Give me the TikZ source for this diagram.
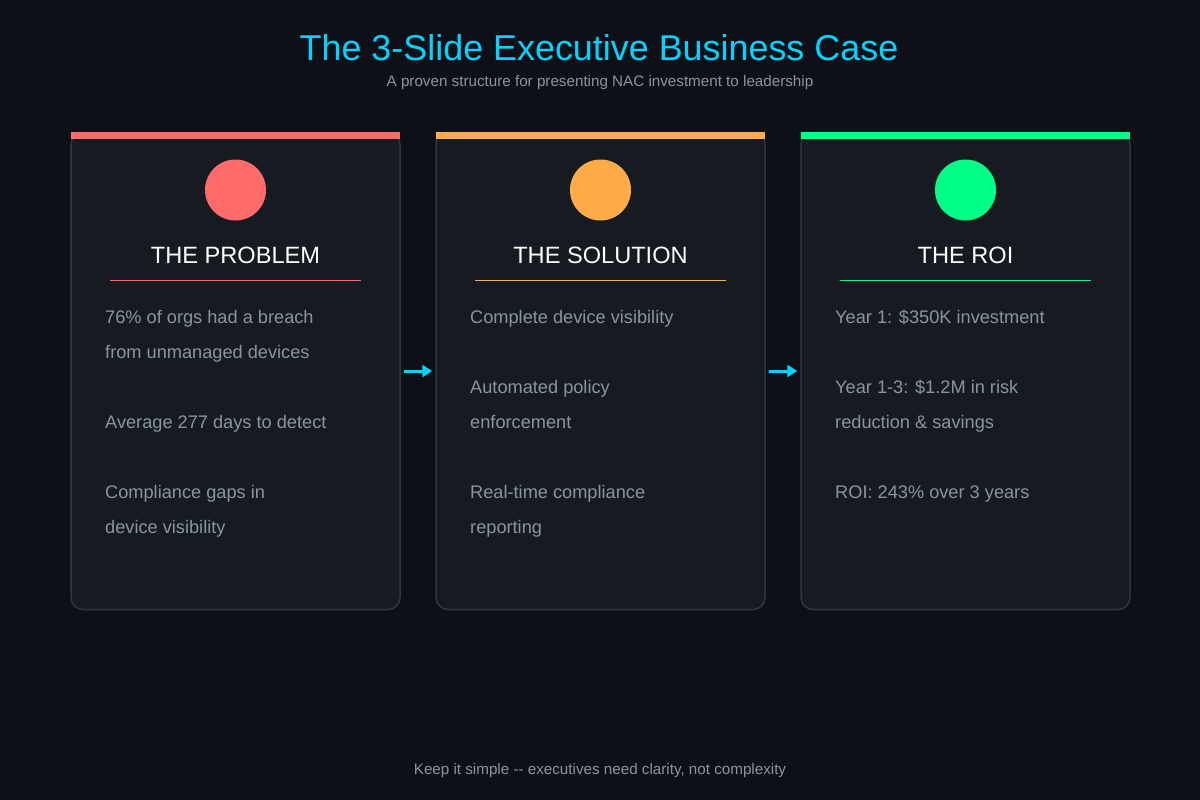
\documentclass[tikz,border=0pt]{standalone}
\usepackage{fontspec}
\setmainfont{Liberation Sans}
\usepackage{xcolor}
\usetikzlibrary{positioning,arrows.meta}
\definecolor{bgdark}{HTML}{0D1117}
\definecolor{cardbg}{HTML}{161B22}
\definecolor{cardline}{HTML}{30363D}
\definecolor{mutedgray}{HTML}{8B949E}
\definecolor{accentcyan}{HTML}{00D4FF}
\definecolor{probred}{HTML}{FF6B6B}
\definecolor{solorange}{HTML}{FFAB4A}
\definecolor{roigreen}{HTML}{00FF88}
\tikzset{
  card/.style={rectangle, rounded corners=12pt, fill=cardbg, draw=cardline, line width=1.5pt, minimum width=329pt, minimum height=477pt, inner sep=0pt},
  dot/.style={circle, minimum size=61pt, inner sep=0pt},
  head/.style={font=\fontsize{23.6}{28}\selectfont, text=white, anchor=base, inner sep=0pt},
  txt/.style={font=\fontsize{18.2}{22}\selectfont, text=mutedgray, anchor=base west, inner sep=0pt},
  flow/.style={draw=accentcyan, line width=3pt, -{Triangle[length=10pt,width=12pt]}},
  note/.style={font=\fontsize{15.2}{18}\selectfont, text=mutedgray, anchor=base, inner sep=0pt},
  slides/.style={x=1pt, y=-1pt}
}

\begin{document}
\begin{tikzpicture}[slides]
  % Background
  \fill[bgdark] (0,0) rectangle (1200,800);
  \useasboundingbox (0,0) rectangle (1200,800);

  % Heading
  \node[font=\fontsize{35.9}{42}\selectfont, text=accentcyan, anchor=base, inner sep=0pt] (title) at (599,60) {The 3-Slide Executive Business Case};
  \node[note] (subtitle) at (600,87) {A proven structure for presenting NAC investment to leadership};

  % Cards
  \node[card] (prob) at (235.5,371) {};
  \node[card] (sol) at (600.5,371) {};
  \node[card] (roi) at (965.5,371) {};

  % Coloured top bars
  \fill[probred] (71,132) rectangle (400,138.5);
  \fill[solorange] (436,132) rectangle (765,138.5);
  \fill[roigreen] (801,132) rectangle (1130,138.5);

  % Icons
  \node[dot, fill=probred] (probdot) at (235.5,190) {};
  \node[dot, fill=solorange] (soldot) at (600.5,190) {};
  \node[dot, fill=roigreen] (roidot) at (965.5,190) {};

  % Card titles with rules
  \node[head] (probhead) at (235.5,263) {THE PROBLEM};
  \node[head] (solhead) at (600.5,263) {THE SOLUTION};
  \node[head] (roihead) at (965.5,263) {THE ROI};
  \draw[probred, line width=1pt] (110,280) -- (361,280);
  \draw[solorange, line width=1pt] (475,280) -- (726,280);
  \draw[roigreen, line width=1pt] (840,280) -- (1091,280);

  % Problem points
  \node[txt] (p1a) at (105,323) {76\% of orgs had a breach};
  \node[txt] (p1b) at (105,358) {from unmanaged devices};
  \node[txt] (p2a) at (105,428) {Average 277 days to detect};
  \node[txt] (p3a) at (105,498) {Compliance gaps in};
  \node[txt] (p3b) at (105,533) {device visibility};

  % Solution points
  \node[txt] (s1a) at (470,323) {Complete device visibility};
  \node[txt] (s2a) at (470,393) {Automated policy};
  \node[txt] (s2b) at (470,428) {enforcement};
  \node[txt] (s3a) at (470,498) {Real-time compliance};
  \node[txt] (s3b) at (470,533) {reporting};

  % ROI points
  \node[txt] (r1a) at (835,323) {Year 1: \$350K investment};
  \node[txt] (r2a) at (835,393) {Year 1-3: \$1.2M in risk};
  \node[txt] (r2b) at (835,428) {reduction \& savings};
  \node[txt] (r3a) at (835,498) {ROI: 243\% over 3 years};

  % Flow between slides
  \draw[flow, shorten <=3pt, shorten >=3pt] (prob.east) -- (sol.west);
  \draw[flow, shorten <=3pt, shorten >=3pt] (sol.east) -- (roi.west);

  % Footer
  \node[note] (footer) at (600,774) {Keep it simple -{}- executives need clarity, not complexity};
\end{tikzpicture}
\end{document}
